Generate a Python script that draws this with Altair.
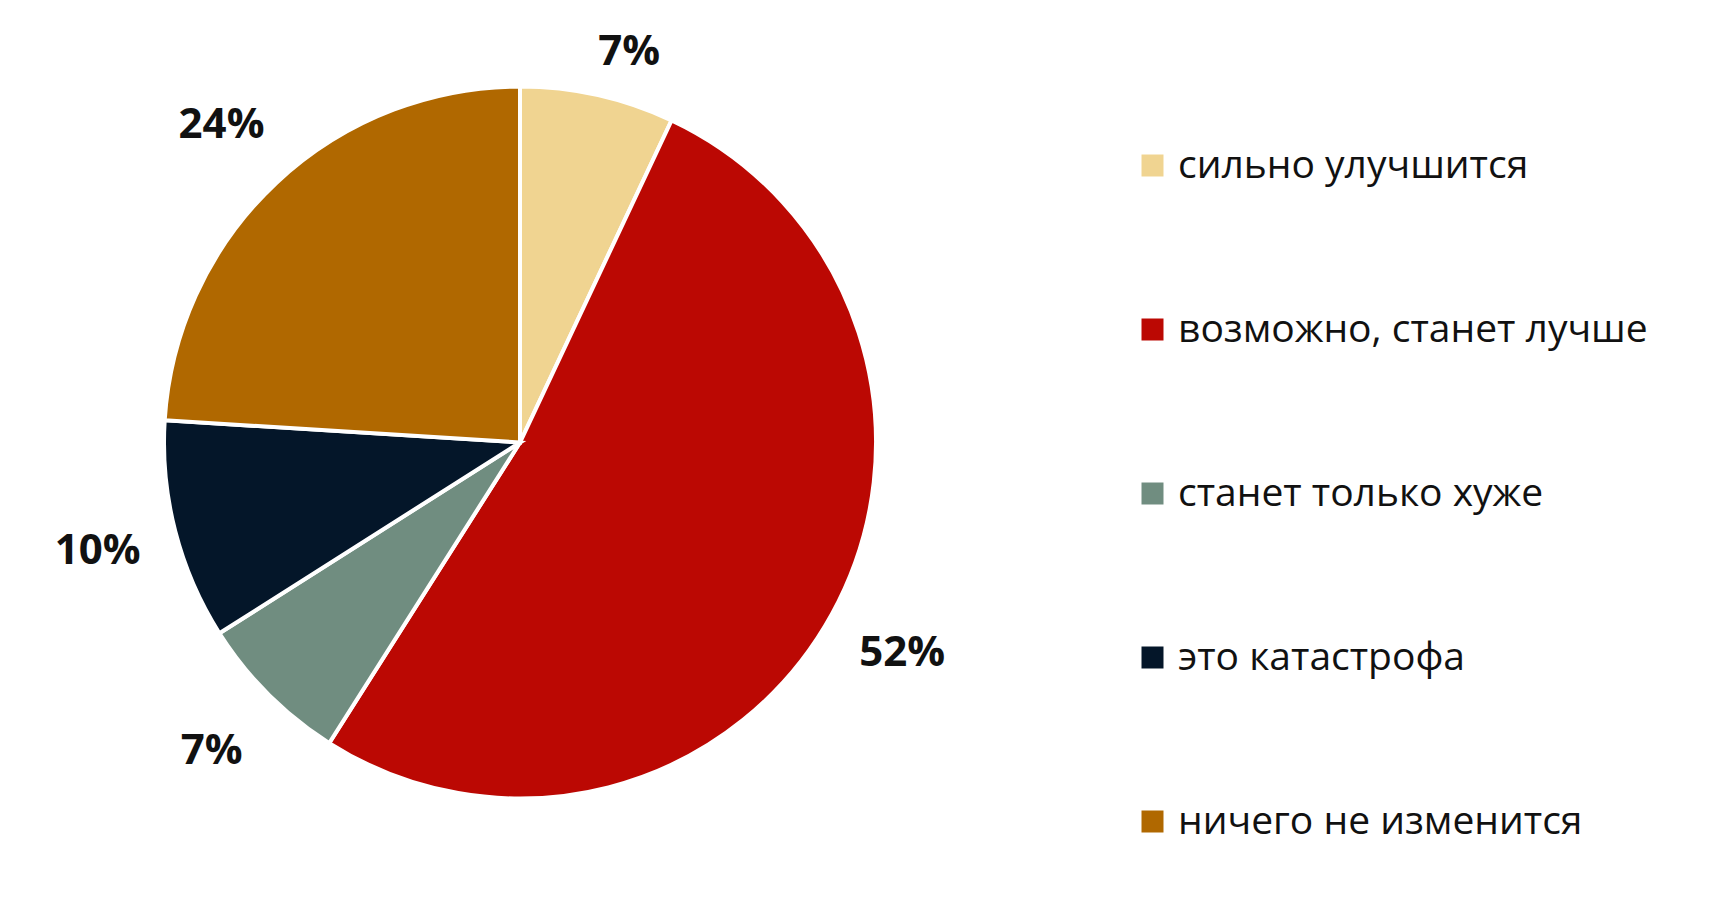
import altair as alt
import pandas as pd

categories = ["сильно улучшится", "возможно, станет лучше", "станет только хуже", "это катастрофа", "ничего не изменится"]
values = [7, 52, 7, 10, 24]
labels = ["7%", "52%", "7%", "10%", "24%"]
colors = ["#F0D491", "#BB0803", "#708D80", "#041629", "#B06800"]

df = pd.DataFrame({"cat": categories, "val": values, "lab": labels, "ord": list(range(len(categories)))})

theta_scale = alt.Scale(domain=[0, 100])

pie = alt.Chart(df).mark_arc(outerRadius=356, stroke="white", strokeWidth=4).encode(
    theta=alt.Theta("val:Q", stack=True, scale=theta_scale),
    order=alt.Order("ord:Q"),
    color=alt.Color(
        "cat:N",
        scale=alt.Scale(domain=categories, range=colors),
        sort=categories,
        legend=alt.Legend(
            title=None,
            orient="none",
            legendX=1120,
            legendY=133,
            symbolType="square",
            symbolSize=484,
            symbolStrokeWidth=0,
            labelFontSize=39,
            labelFont="Open Sans",
            labelFontWeight=500,
            labelColor="#111111",
            labelOffset=6,
            rowPadding=124,
            labelLimit=800,
        ),
    ),
)

text_style = dict(font="Open Sans", fontSize=42, fontWeight="bold", color="#111111")

text_base = alt.Chart(df).transform_window(
    cum="sum(val)", sort=[alt.SortField("ord", order="ascending")], frame=[None, 0]
).transform_calculate(
    mid="datum.cum - datum.val / 2"
).encode(
    theta=alt.Theta("mid:Q", stack=False, scale=theta_scale),
    text="lab:N",
)

text_top = text_base.mark_text(radius=400, dx=22, **text_style).transform_filter(alt.datum.ord == 0)
text_rest = text_base.mark_text(radius=436, **text_style).transform_filter(alt.datum.ord > 0)

chart = (pie + text_top + text_rest).properties(width=1014, height=859).configure_view(stroke=None)

chart.save("out.html", embed_options={"renderer": "svg", "actions": False})
